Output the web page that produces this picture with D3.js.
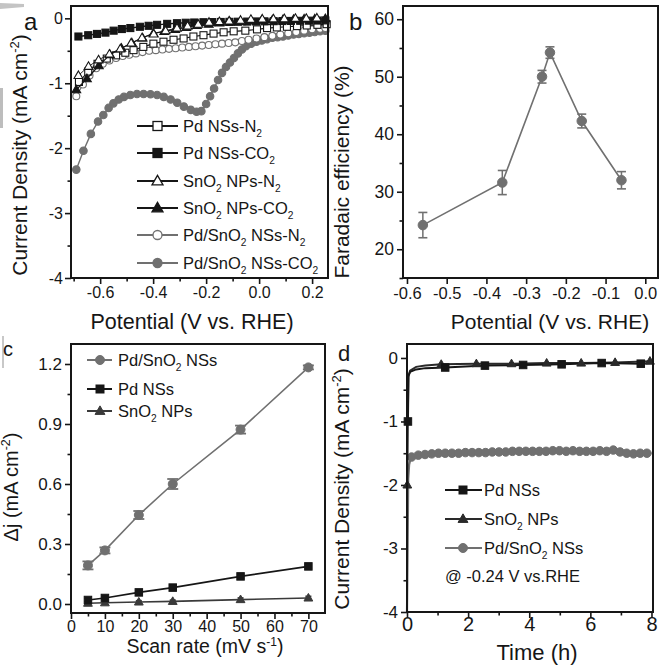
<!DOCTYPE html>
<html><head><meta charset="utf-8">
<script src="https://cdn.jsdelivr.net/npm/d3@7/dist/d3.min.js"></script>
<style>
body{margin:0;background:#fff;}
svg{display:block;}
</style></head><body>
<svg id="chart" width="661" height="671"></svg>
<script>
// ---------------- DATA ----------------
// Panel a : LSV curves  [potential (V vs RHE), current density (mA cm-2)]
const aPdN2 = [[-0.68,-0.98],[-0.645,-0.82],[-0.61,-0.7],[-0.575,-0.62],[-0.54,-0.57],[-0.505,-0.53],[-0.474,-0.49],[-0.437,-0.44],[-0.399,-0.39],[-0.361,-0.36],[-0.323,-0.33],[-0.285,-0.31],[-0.248,-0.28],[-0.21,-0.26],[-0.172,-0.235],[-0.134,-0.215],[-0.096,-0.2],[-0.052,-0.19],[-0.008,-0.17],[0.03,-0.15],[0.067,-0.14],[0.105,-0.13],[0.143,-0.12],[0.18,-0.11],[0.22,-0.1],[0.255,-0.09]];
const aPdCO2 = [[-0.682,-0.28],[-0.645,-0.26],[-0.612,-0.24],[-0.58,-0.22],[-0.549,-0.19],[-0.518,-0.165],[-0.486,-0.15],[-0.45,-0.13],[-0.417,-0.115],[-0.385,-0.1],[-0.347,-0.085],[-0.31,-0.075],[-0.277,-0.068],[-0.245,-0.064],[-0.21,-0.06],[-0.178,-0.058],[-0.145,-0.056],[-0.112,-0.054],[-0.08,-0.052],[-0.045,-0.05],[-0.012,-0.048],[0.02,-0.046],[0.055,-0.044],[0.088,-0.042],[0.12,-0.04],[0.155,-0.038],[0.188,-0.036],[0.22,-0.034],[0.25,-0.032]];
const aSnN2 = [[-0.682,-0.88],[-0.644,-0.74],[-0.606,-0.64],[-0.565,-0.55],[-0.524,-0.47],[-0.483,-0.38],[-0.442,-0.3],[-0.398,-0.24],[-0.353,-0.19],[-0.31,-0.15],[-0.27,-0.12],[-0.23,-0.09],[-0.189,-0.06],[-0.15,-0.05],[-0.113,-0.04],[-0.07,-0.03],[-0.031,-0.015],[0.012,-0.01],[0.054,-0.008],[0.095,-0.005],[0.137,0.0],[0.178,0.0],[0.218,0.005]];
const aSnCO2 = [[-0.69,-1.1],[-0.65,-0.93],[-0.605,-0.73],[-0.563,-0.56],[-0.52,-0.46],[-0.48,-0.38],[-0.44,-0.3],[-0.399,-0.23],[-0.358,-0.2],[-0.317,-0.17],[-0.275,-0.14],[-0.235,-0.11],[-0.19,-0.09],[-0.15,-0.07],[-0.11,-0.06],[-0.07,-0.05],[-0.03,-0.04],[0.01,-0.03],[0.05,-0.025],[0.09,-0.02],[0.13,-0.015],[0.17,-0.01],[0.21,-0.01],[0.25,-0.005]];
const aPdSnN2 = [[-0.69,-1.2],[-0.665,-1.02],[-0.64,-0.88],[-0.615,-0.77],[-0.59,-0.7],[-0.565,-0.65],[-0.54,-0.61],[-0.515,-0.58],[-0.49,-0.56],[-0.465,-0.54],[-0.44,-0.52],[-0.415,-0.5],[-0.39,-0.49],[-0.365,-0.48],[-0.34,-0.47],[-0.315,-0.46],[-0.29,-0.45],[-0.265,-0.44],[-0.24,-0.43],[-0.215,-0.42],[-0.19,-0.41],[-0.165,-0.4],[-0.14,-0.39],[-0.115,-0.38],[-0.09,-0.37],[-0.065,-0.35],[-0.04,-0.33],[-0.01,-0.31],[0.02,-0.29],[0.05,-0.27],[0.08,-0.25],[0.11,-0.23],[0.14,-0.21],[0.17,-0.19],[0.2,-0.17],[0.23,-0.16],[0.25,-0.15]];
const aPdSnCO2 = [[-0.69,-2.33],[-0.663,-2.04],[-0.635,-1.78],[-0.608,-1.59],[-0.588,-1.49],[-0.568,-1.38],[-0.55,-1.31],[-0.53,-1.25],[-0.51,-1.21],[-0.486,-1.18],[-0.461,-1.165],[-0.436,-1.165],[-0.41,-1.17],[-0.385,-1.18],[-0.36,-1.21],[-0.334,-1.25],[-0.309,-1.3],[-0.284,-1.36],[-0.258,-1.41],[-0.236,-1.44],[-0.218,-1.43],[-0.2,-1.32],[-0.185,-1.2],[-0.17,-1.08],[-0.155,-0.95],[-0.14,-0.84],[-0.125,-0.75],[-0.11,-0.68],[-0.095,-0.61],[-0.08,-0.54],[-0.065,-0.48],[-0.05,-0.43],[-0.03,-0.39],[-0.01,-0.36],[0.01,-0.34],[0.03,-0.32],[0.05,-0.3],[0.07,-0.29],[0.09,-0.28],[0.11,-0.265],[0.13,-0.25],[0.15,-0.24],[0.17,-0.23],[0.19,-0.22],[0.21,-0.21],[0.23,-0.2],[0.25,-0.19]];
const aXTicks = [-0.6,-0.4,-0.2,0.0,0.2];
const aXLabels = ["-0.6","-0.4","-0.2","0.0","0.2"];
const aYTicks = [0,-1,-2,-3,-4];
const aYLabels = ["0","-1","-2","-3","-4"];
const aLegend = [
  [["Pd NSs-N",0],["2",1]],
  [["Pd NSs-CO",0],["2",1]],
  [["SnO",0],["2",1],[" NPs-N",0],["2",1]],
  [["SnO",0],["2",1],[" NPs-CO",0],["2",1]],
  [["Pd/SnO",0],["2",1],[" NSs-N",0],["2",1]],
  [["Pd/SnO",0],["2",1],[" NSs-CO",0],["2",1]]
];

// Panel b : Faradaic efficiency
const bPotential = [-0.56,-0.36,-0.26,-0.24,-0.16,-0.06];
const bFE = [24.2,31.6,50.0,54.2,42.3,32.0];
const bErr = [2.2,2.1,1.1,1.0,1.2,1.5];
const bXTicks = [-0.6,-0.5,-0.4,-0.3,-0.2,-0.1,0.0];
const bXLabels = ["-0.6","-0.5","-0.4","-0.3","-0.2","-0.1","0.0"];
const bYTicks = [20,30,40,50,60];
const bYLabels = ["20","30","40","50","60"];

// Panel c : double-layer capacitance
const cScanRate = [5,10,20,30,50,70];
const cPdSn = [0.193,0.268,0.445,0.600,0.872,1.183];
const cPdSnErr = [0.02,0.015,0.02,0.025,0.02,0.01];
const cPd = [0.02,0.03,0.058,0.082,0.138,0.188];
const cPdErr = [0.008,0.008,0.008,0.008,0.01,0.008];
const cSn = [0.004,0.006,0.01,0.013,0.022,0.03];
const cSnErr = [0.006,0.006,0.006,0.006,0.008,0.008];
const cXTicks = [0,10,20,30,40,50,60,70];
const cXLabels = ["0","10","20","30","40","50","60","70"];
const cYTicks = [0,0.3,0.6,0.9,1.2];
const cYLabels = ["0.0","0.3","0.6","0.9","1.2"];
const cLegend = [
  [["Pd/SnO",0],["2",1],[" NSs",0]],
  [["Pd NSs",0]],
  [["SnO",0],["2",1],[" NPs",0]]
];

// Panel d : chronoamperometry [time (h), j (mA cm-2)]
const dPdLine = [[0.03,-1.0],[0.05,-0.28],[0.1,-0.22],[0.3,-0.18],[0.6,-0.16],[1.25,-0.15],[2.55,-0.12],[3.8,-0.11],[5.06,-0.1],[6.37,-0.08],[7.65,-0.09],[8.0,-0.08]];
const dPdMarks = [[0.03,-1.0],[1.25,-0.15],[2.55,-0.12],[3.8,-0.11],[5.06,-0.1],[6.37,-0.08],[7.65,-0.09]];
const dSnLine = [[0.01,-2.0],[0.04,-0.3],[0.1,-0.2],[0.3,-0.14],[0.6,-0.12],[1.12,-0.1],[2.27,-0.09],[3.42,-0.09],[4.57,-0.08],[5.7,-0.08],[6.81,-0.07],[7.95,-0.05]];
const dSnMarks = [[0.01,-2.0],[1.12,-0.1],[2.27,-0.09],[3.42,-0.09],[4.57,-0.08],[5.7,-0.08],[6.81,-0.07],[7.95,-0.05]];
const dPdSnLine = [[0.0,-4.0],[0.02,-3.0],[0.04,-1.9],[0.07,-1.68],[0.1,-1.62],[0.15,-1.56],[0.37,-1.53],[0.59,-1.52],[0.81,-1.51],[1.03,-1.5],[1.25,-1.5],[1.47,-1.5],[1.69,-1.5],[1.91,-1.49],[2.13,-1.49],[2.35,-1.49],[2.57,-1.49],[2.79,-1.48],[3.01,-1.48],[3.23,-1.48],[3.45,-1.47],[3.67,-1.47],[3.89,-1.47],[4.11,-1.47],[4.33,-1.47],[4.55,-1.47],[4.77,-1.46],[4.99,-1.46],[5.21,-1.47],[5.43,-1.46],[5.65,-1.47],[5.87,-1.47],[6.09,-1.47],[6.31,-1.46],[6.53,-1.47],[6.75,-1.45],[6.97,-1.48],[7.19,-1.5],[7.41,-1.51],[7.63,-1.5],[7.85,-1.5],[8.0,-1.5]];
const dPdSnMarkTimes = [0.15,0.37,0.59,0.81,1.03,1.25,1.47,1.69,1.91,2.13,2.35,2.57,2.79,3.01,3.23,3.45,3.67,3.89,4.11,4.33,4.55,4.77,4.99,5.21,5.43,5.65,5.87,6.09,6.31,6.53,6.75,6.97,7.19,7.41,7.63,7.85];
const dXTicks = [0,2,4,6,8];
const dXLabels = ["0","2","4","6","8"];
const dYTicks = [0,-1,-2,-3,-4];
const dYLabels = ["0","-1","-2","-3","-4"];
const dLegend = [
  [["Pd NSs",0]],
  [["SnO",0],["2",1],[" NPs",0]],
  [["Pd/SnO",0],["2",1],[" NSs",0]]
];

// ---------------- DRAWING ----------------
const FONT = '"Liberation Sans", Arial, Helvetica, sans-serif';
const BLACK = "#161616", GREY = "#707070";
const svg = d3.select("#chart").attr("font-family", FONT);
svg.append("rect").attr("width",661).attr("height",671).attr("fill","#fff");

// scan artefacts at left edge
svg.append("path").attr("d","M0,3 L24,4 L24,7 L0,9 Z").attr("fill","#c4c4c4");
svg.append("rect").attr("x",0).attr("y",88).attr("width",3).attr("height",40).attr("fill","#bdbdbd");
svg.append("rect").attr("x",2).attr("y",336).attr("width",2).attr("height",32).attr("fill","#c8c8c8");

function panel(c){
  const g = svg.append("g");
  const x = d3.scaleLinear().domain(c.xDomain).range([c.left,c.right]);
  const y = d3.scaleLinear().domain(c.yDomain).range([c.bottom,c.top]);
  const xa = g.append("g").attr("transform",`translate(0,${c.bottom})`)
    .call(d3.axisBottom(x).tickValues(c.xTicks).tickFormat((d,i)=>c.xLabels[i]).tickSize(6).tickPadding(c.xPad!==undefined?c.xPad:3));
  if (c.xMinor) g.append("g").attr("transform",`translate(0,${c.bottom})`)
    .call(d3.axisBottom(x).tickValues(c.xMinor).tickFormat("").tickSize(3.5));
  const ya = g.append("g").attr("transform",`translate(${c.left},0)`)
    .call(d3.axisLeft(y).tickValues(c.yTicks).tickFormat((d,i)=>c.yLabels[i]).tickSize(6).tickPadding(c.yPad||3));
  if (c.yMinor) g.append("g").attr("transform",`translate(${c.left},0)`)
    .call(d3.axisLeft(y).tickValues(c.yMinor).tickFormat("").tickSize(3.5));
  g.selectAll(".domain").remove();
  g.selectAll(".tick line").attr("stroke",BLACK).attr("stroke-width",1.6);
  xa.attr("font-size",c.xFont).attr("font-family",FONT);
  ya.attr("font-size",c.yFont).attr("font-family",FONT);
  g.selectAll(".tick text").attr("fill",BLACK);
  const data = svg.append("g");
  const frame = () => svg.append("rect").attr("x",c.left).attr("y",c.top)
      .attr("width",c.right-c.left).attr("height",c.bottom-c.top)
      .attr("fill","none").attr("stroke",BLACK).attr("stroke-width",2);
  return {g:data,x,y,frame};
}

function richText(g, x, y, parts, size, opts={}){
  const t = g.append("text").attr("x",x).attr("y",y).attr("font-size",size).attr("fill",opts.fill||BLACK);
  if (opts.anchor) t.attr("text-anchor",opts.anchor);
  if (opts.rotate) t.attr("transform",`rotate(-90,${x},${y})`);
  let shift = 0;
  parts.forEach(([s,mode])=>{
    const ts = t.append("tspan").text(s);
    let target = 0, fs = size;
    if (mode===1){ target = size*0.32; fs = size*0.62; }
    if (mode===2){ target = -size*0.38; fs = size*0.62; }
    ts.attr("font-size",fs).attr("dy",target-shift);
    shift = target;
  });
  return t;
}

function marker(g, type, cx, cy, s, fill, stroke, sw){
  if (type==="square"){
    g.append("rect").attr("x",cx-s/2).attr("y",cy-s/2).attr("width",s).attr("height",s)
      .attr("fill",fill).attr("stroke",stroke).attr("stroke-width",sw||1);
  } else if (type==="circle"){
    g.append("circle").attr("cx",cx).attr("cy",cy).attr("r",s/2)
      .attr("fill",fill).attr("stroke",stroke).attr("stroke-width",sw||1);
  } else {
    const h = s*0.95, w = s*1.1;
    g.append("path").attr("d",`M${cx},${cy-h*0.6} L${cx+w/2},${cy+h*0.4} L${cx-w/2},${cy+h*0.4} Z`)
      .attr("fill",fill).attr("stroke",stroke).attr("stroke-width",sw||1);
  }
}

function series(P, pts, col, lw, type, s, fill, stroke){
  const line = d3.line().x(d=>P.x(d[0])).y(d=>P.y(d[1]));
  P.g.append("path").datum(pts).attr("d",line).attr("fill","none").attr("stroke",col).attr("stroke-width",lw);
  pts.forEach(d=>marker(P.g,type,P.x(d[0]),P.y(d[1]),s,fill,stroke,1.1));
}

// ----- Panel a -----
const A = panel({left:71,right:328,top:6,bottom:278,xDomain:[-0.71,0.26],yDomain:[-4,0.19],
  xTicks:aXTicks,xLabels:aXLabels,xMinor:[-0.7,-0.5,-0.3,-0.1,0.1],
  yTicks:aYTicks,yLabels:aYLabels,yMinor:[-0.5,-1.5,-2.5,-3.5],xFont:16,yFont:16,yPad:2});
series(A,aPdSnCO2,GREY,1.4,"circle",7.5,GREY,GREY);
series(A,aPdSnN2,GREY,1.2,"circle",7,"#fff",GREY);
series(A,aPdN2,BLACK,1.2,"square",7,"#fff",BLACK);
series(A,aPdCO2,BLACK,1.4,"square",7,BLACK,BLACK);
series(A,aSnCO2,BLACK,1.2,"triangle",8,BLACK,BLACK);
series(A,aSnN2,BLACK,0.9,"triangle",8,"#fff",BLACK);
A.frame();
const aLegStyle = [
  ["square","#fff",BLACK,BLACK],["square",BLACK,BLACK,BLACK],
  ["triangle","#fff",BLACK,BLACK],["triangle",BLACK,BLACK,BLACK],
  ["circle","#fff",GREY,GREY],["circle",GREY,GREY,GREY]];
const aLegY = [126,153,181,208,235,263];
aLegend.forEach((lab,i)=>{
  const [tp,f,s,c] = aLegStyle[i];
  svg.append("line").attr("x1",137).attr("x2",178).attr("y1",aLegY[i]).attr("y2",aLegY[i]).attr("stroke",c).attr("stroke-width",1.8);
  marker(svg,tp,157.5,aLegY[i],tp==="triangle"?10:9,f,s,1.3);
  richText(svg,183,aLegY[i]+6,lab,16.5);
});
richText(svg,24,30,[["a",0]],24);
richText(svg,27,155,[["Current Density (mA cm",0],["-2",2],[")",0]],21,{anchor:"middle",rotate:true});
richText(svg,192,329,[["Potential (V vs. RHE)",0]],21.5,{anchor:"middle"});

// ----- Panel b -----
const B = panel({left:403,right:658,top:6,bottom:278,xDomain:[-0.61,0.032],yDomain:[15,62.3],
  xTicks:bXTicks,xLabels:bXLabels,
  yTicks:bYTicks,yLabels:bYLabels,yMinor:[15,25,35,45,55],xFont:16.5,yFont:17.5,yPad:3});
const bPts = bPotential.map((p,i)=>[p,bFE[i]]);
B.g.append("path").datum(bPts).attr("d",d3.line().x(d=>B.x(d[0])).y(d=>B.y(d[1])))
  .attr("fill","none").attr("stroke",GREY).attr("stroke-width",1.6);
bPts.forEach((d,i)=>{
  const cx=B.x(d[0]), y1=B.y(d[1]-bErr[i]), y2=B.y(d[1]+bErr[i]);
  B.g.append("line").attr("x1",cx).attr("x2",cx).attr("y1",y1).attr("y2",y2).attr("stroke",GREY).attr("stroke-width",1.5);
  [y1,y2].forEach(yy=>B.g.append("line").attr("x1",cx-4.5).attr("x2",cx+4.5).attr("y1",yy).attr("y2",yy).attr("stroke",GREY).attr("stroke-width",1.6));
  marker(B.g,"circle",cx,B.y(d[1]),9.5,GREY,GREY,1);
});
B.frame();
richText(svg,349,30,[["b",0]],24);
richText(svg,349,172,[["Faradaic efficiency (%)",0]],21,{anchor:"middle",rotate:true});
richText(svg,550,329,[["Potential (V vs. RHE)",0]],21,{anchor:"middle"});

// ----- Panel c -----
const C = panel({left:71,right:325,top:344,bottom:613,xDomain:[0,74.9],yDomain:[-0.045,1.3],
  xTicks:cXTicks,xLabels:cXLabels,xMinor:[5,15,25,35,45,55,65],
  yTicks:cYTicks,yLabels:cYLabels,yMinor:[0.15,0.45,0.75,1.05],xFont:16,xPad:2,yFont:17,yPad:3});
function cSeries(vals, errs, col, type, s, cap){
  const pts = cScanRate.map((r,i)=>[r,vals[i]]);
  C.g.append("path").datum(pts).attr("d",d3.line().x(d=>C.x(d[0])).y(d=>C.y(d[1])))
    .attr("fill","none").attr("stroke",col).attr("stroke-width",1.6);
  pts.forEach((d,i)=>{
    const cx=C.x(d[0]), y1=C.y(d[1]-errs[i]), y2=C.y(d[1]+errs[i]);
    C.g.append("line").attr("x1",cx).attr("x2",cx).attr("y1",y1).attr("y2",y2).attr("stroke",col).attr("stroke-width",1.4);
    [y1,y2].forEach(yy=>C.g.append("line").attr("x1",cx-cap).attr("x2",cx+cap).attr("y1",yy).attr("y2",yy).attr("stroke",col).attr("stroke-width",1.8));
    marker(C.g,type,cx,C.y(d[1]),s,col,col,1);
  });
}
cSeries(cPdSn,cPdSnErr,GREY,"circle",9,5.5);
cSeries(cSn,cSnErr,"#3a3a3a","triangle",8,3);
cSeries(cPd,cPdErr,BLACK,"square",7.5,3.5);
C.frame();
const cLegY = [360,389,411];
const cLegStyle = [["circle",GREY,9],["square",BLACK,8],["triangle","#3a3a3a",9]];
cLegend.forEach((lab,i)=>{
  const [tp,col,s] = cLegStyle[i];
  svg.append("line").attr("x1",87).attr("x2",112).attr("y1",cLegY[i]).attr("y2",cLegY[i]).attr("stroke",col).attr("stroke-width",2);
  marker(svg,tp,100,cLegY[i],s,col,col,1);
  richText(svg,118,cLegY[i]+6,lab,16.5);
});
richText(svg,3,356,[["c",0]],20);
richText(svg,18,487,[["Δj (mA cm",0],["-2",2],[")",0]],20,{anchor:"middle",rotate:true});
richText(svg,205,653,[["Scan rate (mV s",0],["-1",2],[")",0]],19.5,{anchor:"middle"});

// ----- Panel d -----
const D = panel({left:407,right:653,top:344,bottom:612,xDomain:[0,8.05],yDomain:[-4,0.22],
  xTicks:dXTicks,xLabels:dXLabels,xMinor:[1,3,5,7],
  yTicks:dYTicks,yLabels:dYLabels,yMinor:[-0.5,-1.5,-2.5,-3.5],xFont:20,yFont:17,yPad:3,xPad:-1});
function dLine(pts,col,lw){
  D.g.append("path").datum(pts).attr("d",d3.line().x(d=>D.x(d[0])).y(d=>D.y(d[1])))
    .attr("fill","none").attr("stroke",col).attr("stroke-width",lw);
}
dLine(dPdSnLine,GREY,2.2);
dPdSnMarkTimes.forEach(t=>{
  const p = dPdSnLine.find(d=>d[0]===t);
  marker(D.g,"circle",D.x(p[0]),D.y(p[1]),8.5,GREY,GREY,1);
});
dLine(dSnLine,"#2a2a2a",2);
dLine(dPdLine,BLACK,2);
dSnMarks.forEach(d=>marker(D.g,"triangle",D.x(d[0]),D.y(d[1]),8,"#2a2a2a","#2a2a2a",1));
dPdMarks.forEach(d=>marker(D.g,"square",D.x(d[0]),D.y(d[1]),7.5,BLACK,BLACK,1));
D.frame();
const dLegY = [490,519,548];
const dLegStyle = [["square",BLACK,8],["triangle","#2a2a2a",9],["circle",GREY,9]];
dLegend.forEach((lab,i)=>{
  const [tp,col,s] = dLegStyle[i];
  svg.append("line").attr("x1",445).attr("x2",482).attr("y1",dLegY[i]).attr("y2",dLegY[i]).attr("stroke",col).attr("stroke-width",2);
  marker(svg,tp,463,dLegY[i],s,col,col,1);
  richText(svg,484,dLegY[i]+6,lab,16.5);
});
richText(svg,445,582,[["@ -0.24 V vs.RHE",0]],16.5);
richText(svg,338,361,[["d",0]],22);
richText(svg,349,489,[["Current Density (mA cm",0],["-2",2],[")",0]],21,{anchor:"middle",rotate:true});
richText(svg,537,660,[["Time (h)",0]],22,{anchor:"middle"});
</script>
</body></html>
